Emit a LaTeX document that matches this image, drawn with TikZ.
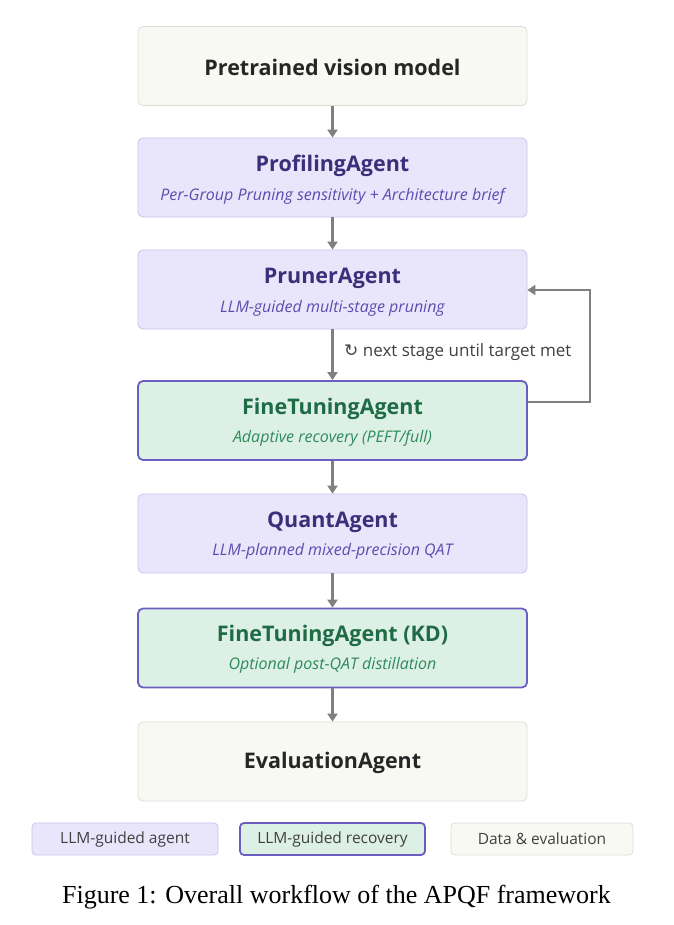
\documentclass[tikz,border=0pt]{standalone}
\usepackage{fontspec}
\newfontfamily\sansf{Open Sans}
\newfontfamily\symf{DejaVu Sans}
\newfontfamily\capf{Liberation Serif}
\usetikzlibrary{arrows.meta}
\definecolor{pfill}{HTML}{E9E6FB}\definecolor{pdraw}{HTML}{C9C3F0}
\definecolor{ptext}{HTML}{3B2F7A}\definecolor{psub}{HTML}{5A4DB0}
\definecolor{gfill}{HTML}{DDF0E6}\definecolor{gdraw}{HTML}{6A5FC0}
\definecolor{gtext}{HTML}{1F6B45}\definecolor{gsub}{HTML}{2E8A5A}
\definecolor{dfill}{HTML}{F9F9F4}\definecolor{ddraw}{HTML}{DDDDD5}
\definecolor{arr}{HTML}{808080}
\begin{document}
\begin{tikzpicture}[x=1pt,y=-1pt,
 box/.style={rounded corners=5pt,minimum width=389pt,minimum height=79pt,line width=0.8pt,inner sep=0pt},
 pbox/.style={box,fill=pfill,draw=pdraw},
 gbox/.style={box,fill=gfill,draw=gdraw,line width=1.8pt},
 dbox/.style={box,fill=dfill,draw=ddraw},
 ttl/.style={font=\sansf\bfseries\fontsize{21.5}{24}\selectfont},
 sub/.style={font=\sansf\itshape\fontsize{16}{18}\selectfont},
 leg/.style={rounded corners=4pt,minimum height=32pt,line width=0.8pt,font=\sansf\fontsize{15.5}{17}\selectfont,text=black!75},
 ar/.style={draw=arr,line width=2.8pt,-{Triangle[length=8pt,width=10pt]}}]
\path[use as bounding box,fill=white] (0,0) rectangle (673,925);
\node[dbox] (a) at (332.5,66) {};
\node[ttl,text=black!85] at (332.5,67) {Pretrained vision model};
\node[pbox] (b) at (332.5,177.5) {};
\node[ttl,text=ptext] at (332.5,166) {ProfilingAgent};
\node[sub,text=psub] at (332.5,196) {Per-Group Pruning sensitivity + Architecture brief};
\node[pbox] (c) at (332.5,289.5) {};
\node[ttl,text=ptext] at (332.5,278) {PrunerAgent};
\node[sub,text=psub] at (332.5,308) {LLM-guided multi-stage pruning};
\node[gbox] (d) at (332.5,420.5) {};
\node[ttl,text=gtext] at (332.5,409) {FineTuningAgent};
\node[sub,text=gsub] at (332.5,438) {Adaptive recovery (PEFT/full)};
\node[pbox] (e) at (332.5,533.5) {};
\node[ttl,text=ptext] at (332.5,522) {QuantAgent};
\node[sub,text=psub] at (332.5,551) {LLM-planned mixed-precision QAT};
\node[gbox] (f) at (332.5,648) {};
\node[ttl,text=gtext] at (332.5,636) {FineTuningAgent (KD)};
\node[sub,text=gsub] at (332.5,665) {Optional post-QAT distillation};
\node[dbox] (g) at (332.5,761.5) {};
\node[ttl,text=black!85] at (332.5,762.5) {EvaluationAgent};
\draw[ar] (a) -- (b); \draw[ar] (b) -- (c); \draw[ar] (c) -- (d);
\draw[ar] (d) -- (e); \draw[ar] (e) -- (f); \draw[ar] (f) -- (g);
\draw[ar] (d.east|-0,402) -- (590,402) -- (590,290) -- (c.east|-0,290);
\node[anchor=west,font=\sansf\fontsize{17}{19}\selectfont,text=black!75,inner sep=0pt] (lbl) at (344,352) {{\symf ↻} next stage until target met};
\node[leg,fill=pfill,draw=pdraw,minimum width=186pt] (l1) at (125,839) {LLM-guided agent};
\node[leg,fill=gfill,draw=gdraw,line width=1.8pt,minimum width=185pt] (l2) at (332.5,839) {LLM-guided recovery};
\node[leg,fill=dfill,draw=ddraw,minimum width=182pt] (l3) at (542,839) {Data \& evaluation};
\node[font=\capf\fontsize{26}{28}\selectfont] (cap) at (336.5,897) {Figure 1: Overall workflow of the APQF framework};
\end{tikzpicture}
\end{document}
